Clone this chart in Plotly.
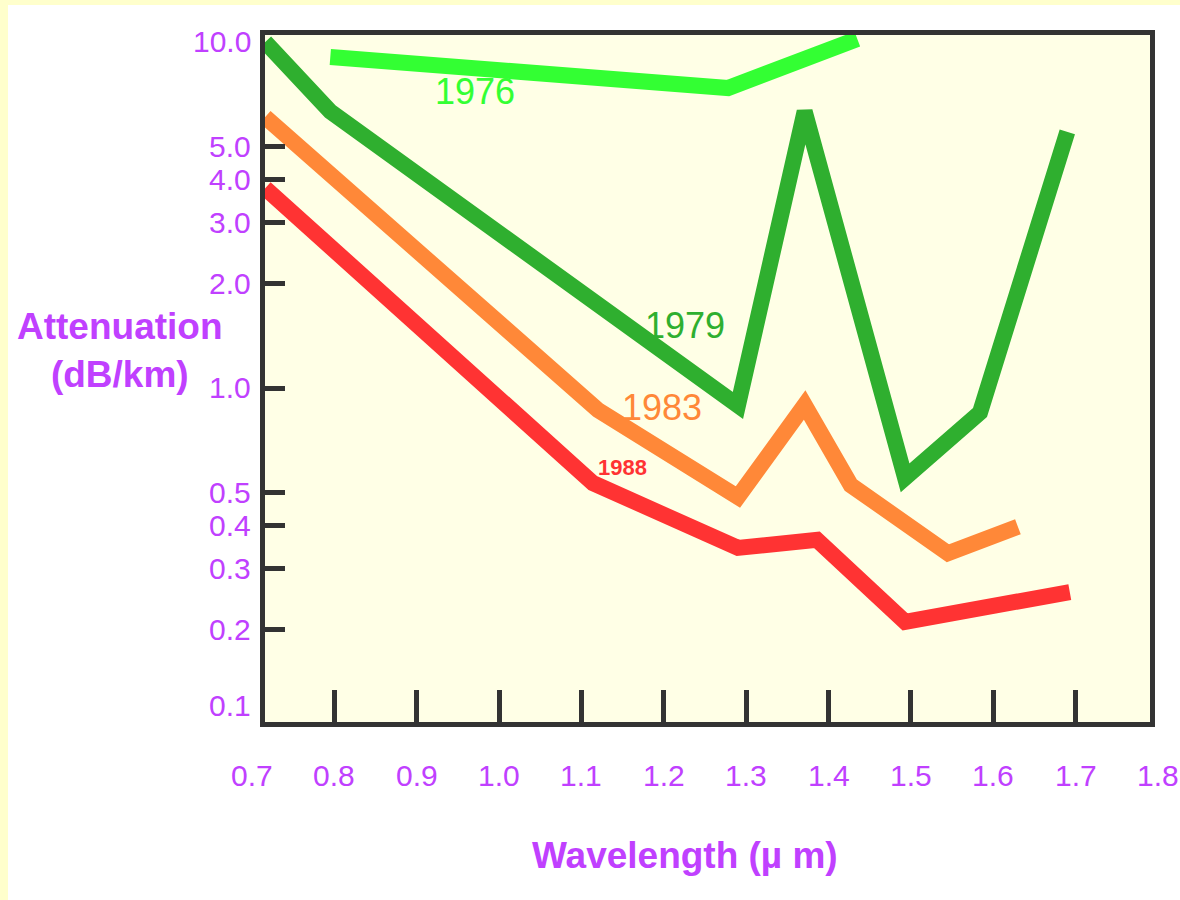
import math
import plotly.graph_objects as go

# ---- data ----
wl_1976 = [0.795, 1.278, 1.435]
att_1976 = [9.05, 7.36, 10.2]

wl_1979 = [0.716, 0.795, 1.29, 1.371, 1.493, 1.584, 1.69]
att_1979 = [10.0, 6.3, 0.89, 6.3, 0.55, 0.85, 5.5]

wl_1983 = [0.716, 1.12, 1.29, 1.371, 1.427, 1.545, 1.63]
att_1983 = [6.07, 0.864, 0.484, 0.893, 0.524, 0.333, 0.397]

wl_1988 = [0.716, 1.114, 1.29, 1.386, 1.493, 1.693]
att_1988 = [3.78, 0.531, 0.345, 0.364, 0.211, 0.257]

x_tick_vals = [0.8, 0.9, 1.0, 1.1, 1.2, 1.3, 1.4, 1.5, 1.6, 1.7]
x_label_vals = [0.7, 0.8, 0.9, 1.0, 1.1, 1.2, 1.3, 1.4, 1.5, 1.6, 1.7, 1.8]
x_label_text = ["0.7", "0.8", "0.9", "1.0", "1.1", "1.2", "1.3", "1.4", "1.5", "1.6", "1.7", "1.8"]

y_tick_vals = [0.2, 0.3, 0.4, 0.5, 1.0, 2.0, 3.0, 4.0, 5.0]
y_label_vals = [10.0, 5.0, 4.0, 3.0, 2.0, 1.0, 0.5, 0.4, 0.3, 0.2, 0.1]
y_label_text = ["10.0", "5.0", "4.0", "3.0", "2.0", "1.0", "0.5", "0.4", "0.3", "0.2", "0.1"]

series_names = ["1976", "1979", "1983", "1988"]
series_label_pos = [(0.971, 7.17), (1.226, 1.52), (1.198, 0.881), (1.150, 0.591)]

# ---- styling ----
PURPLE = "#C040FF"
COLORS = {"1976": "#33FF33", "1979": "#2FAF2F", "1983": "#FF8838", "1988": "#FF3333"}
FONT = "Liberation Sans, Arial, sans-serif"
BORDER = "#333333"
X_RANGE = [0.7157, 1.7904]
Y_RANGE = [-0.9653, 1.0202]


def xpaper(v):
    return (v - X_RANGE[0]) / (X_RANGE[1] - X_RANGE[0])


def ypaper(v):
    return (math.log10(v) - Y_RANGE[0]) / (Y_RANGE[1] - Y_RANGE[0])


fig = go.Figure()
for name, xs, ys in [("1976", wl_1976, att_1976), ("1979", wl_1979, att_1979),
                     ("1983", wl_1983, att_1983), ("1988", wl_1988, att_1988)]:
    fig.add_trace(go.Scatter(x=xs, y=ys, mode="lines", name=name,
                             line=dict(color=COLORS[name], width=16),
                             showlegend=False, hoverinfo="skip"))

annotations = []
# series labels
for name, (lx, ly) in zip(series_names, series_label_pos):
    bold = name == "1988"
    annotations.append(dict(
        x=lx, y=math.log10(ly), xref="x", yref="y",
        text=f"<b>{name}</b>" if bold else name, showarrow=False,
        font=dict(family=FONT, size=22 if bold else 36, color=COLORS[name]),
        xanchor="center", yanchor="middle"))

# x tick labels
for v, t in zip(x_label_vals, x_label_text):
    annotations.append(dict(x=xpaper(v), y=0, xref="paper", yref="paper", text=t,
                            showarrow=False, yshift=-53, xanchor="center", yanchor="middle",
                            font=dict(family=FONT, size=30, color=PURPLE)))
# y tick labels
for v, t in zip(y_label_vals, y_label_text):
    shift = 29 if v == 0.1 else 0
    annotations.append(dict(x=0, y=ypaper(v), xref="paper", yref="paper", text=t,
                            showarrow=False, xshift=-12, yshift=shift,
                            xanchor="right", yanchor="middle",
                            font=dict(family=FONT, size=30, color=PURPLE)))

# axis titles
annotations.append(dict(x=0, y=(722 - 350) / 687, xref="paper", yref="paper",
                        text="<b>Attenuation</b><br><b>(dB/km)</b>", showarrow=False,
                        xshift=-145, xanchor="center", yanchor="middle",
                        align="center",
                        font=dict(family=FONT, size=37, color=PURPLE)))
annotations.append(dict(x=0.4746, y=0, xref="paper", yref="paper",
                        text="<b>Wavelength (µ m)</b>", showarrow=False,
                        yshift=-133, xanchor="center", yanchor="middle",
                        font=dict(family=FONT, size=37, color=PURPLE)))

shapes = [
    dict(type="rect", xref="paper", yref="paper", x0=-0.2994, x1=-0.2904, y0=-0.26, y1=1.0509,
         fillcolor="#FFFFCC", line=dict(width=0), layer="below"),
    dict(type="rect", xref="paper", yref="paper", x0=-0.2994, x1=1.04, y0=1.0437, y1=1.0509,
         fillcolor="#FFFFCC", line=dict(width=0), layer="below"),
]

fig.update_layout(
    width=1180, height=900,
    margin=dict(l=265, r=30, t=35, b=178, pad=0),
    paper_bgcolor="white", plot_bgcolor="#FFFFE6",
    annotations=annotations, shapes=shapes,
    xaxis=dict(range=X_RANGE, tickvals=x_tick_vals, showticklabels=False,
               ticks="inside", ticklen=32, tickwidth=5, tickcolor=BORDER,
               showline=True, linewidth=5, linecolor=BORDER, mirror=True,
               showgrid=False, zeroline=False),
    yaxis=dict(type="log", range=Y_RANGE, tickvals=y_tick_vals, showticklabels=False,
               ticks="inside", ticklen=20, tickwidth=5, tickcolor=BORDER,
               showline=True, linewidth=5, linecolor=BORDER, mirror=True,
               showgrid=False, zeroline=False),
)

fig.write_html("out.html", config={"displayModeBar": False},
               post_script="document.body.style.margin='0';document.body.style.overflow='hidden';")
